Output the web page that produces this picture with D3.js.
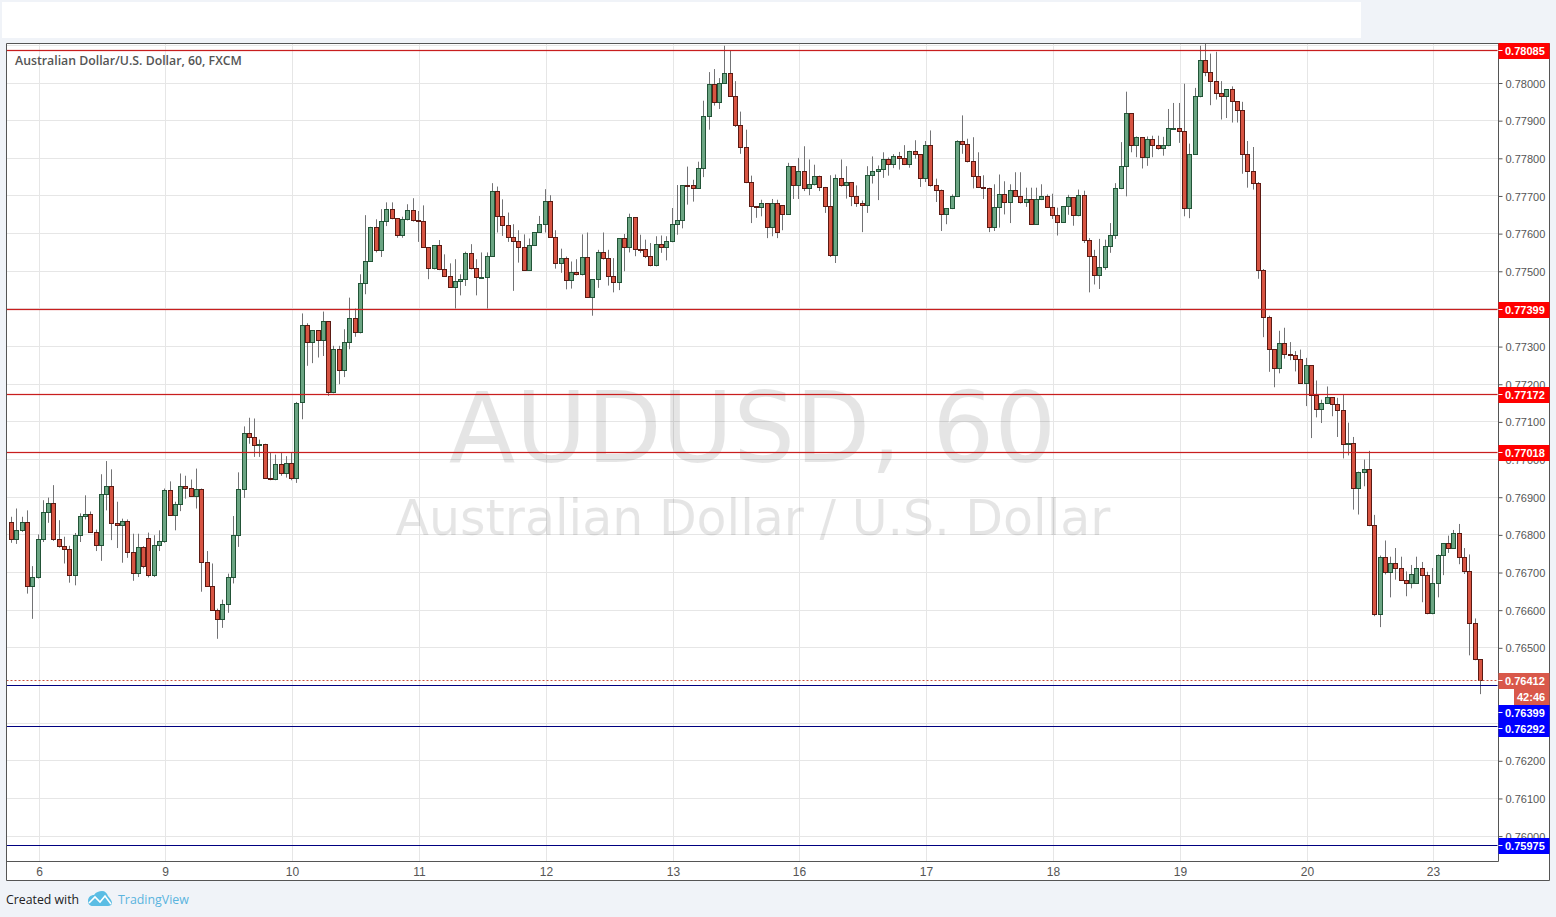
<!DOCTYPE html>
<html>
<head>
<meta charset="utf-8">
<script src="https://d3js.org/d3.v7.min.js"></script>
<style>
html,body{margin:0;padding:0;background:#f0f3f8;overflow:hidden}
svg{display:block}
text{font-family:"Liberation Sans",Arial,sans-serif}
</style>
</head>
<body>
<svg id="c" width="1556" height="917"></svg>
<script>
// Hourly bars, each row is [open, high, low, close] in 0.00001 price units.
const barsA=[[76833,76848,76779,76788],[76788,76870,76776,76811],[76811,76848,76808,76833],[76833,76865,76644,76663],[76663,76717,76577,76687],[76687,76801,76684,76788],[76788,76892,76781,76859],[76859,76899,76832,76883],[76883,76932,76784,76788],[76788,76839,76766,76768],[76768,76795,76724,76760],[76760,76771,76673,76692],[76692,76805,76666,76798],[76798,76857,76781,76849],[76849,76905,76841,76854],[76854,76862,76805,76806],[76806,76814,76757,76772],[76772,76961,76731,76907],[76907,76996,76865,76928],[76928,76974,76786,76830],[76830,76888,76765,76825],[76825,76843,76726,76835],[76835,76841,76739,76752],[76752,76803,76678,76697],[76697,76803,76688,76766],[76766,76770,76711,76716],[76790,76806,76687,76692],[76692,76799,76688,76772],[76772,76812,76757,76782],[76782,76923,76779,76918],[76918,76942,76851,76851],[76851,76888,76812,76880],[76880,76963,76863,76928],[76928,76957,76896,76923],[76923,76947,76901,76902],[76902,76976,76870,76920],[76920,76923,76649,76727],[76727,76757,76662,76663],[76663,76724,76598,76599],[76599,76604,76524,76575],[76575,76628,76553,76615],[76615,76697,76593,76687],[76687,76850,76671,76798],[76798,76966,76768,76920],[76920,77088,76898,77069],[77069,77111,77042,77058],[77058,77109,77007,77037],[77037,77053,77007,77040],[77040,77042,76949,76950],[76950,77018,76945,76947],[76947,77013,76945,76987],[76987,77020,76957,76963],[76963,77009,76952,76989],[76989,77018,76945,76950],[76950,77153,76938,77149]];
const barsB=[[77151,77388,77107,77356],[77356,77362,77249,77311],[77311,77342,77256,77342],[77342,77342,77271,77316],[77316,77393,77275,77366],[77366,77366,77169,77178],[77178,77302,77176,77292],[77292,77302,77200,77236],[77236,77346,77219,77311],[77311,77430,77293,77374],[77374,77401,77326,77337],[77337,77492,77335,77467],[77467,77649,77439,77526],[77526,77618,77525,77616],[77616,77638,77550,77555],[77555,77665,77538,77632],[77632,77683,77620,77664],[77664,77683,77638,77640],[77640,77640,77589,77595],[77595,77645,77589,77637],[77637,77678,77635,77661],[77661,77694,77632,77634],[77634,77660,77578,77633],[77633,77675,77562,77563],[77563,77563,77479,77507],[77507,77568,77505,77568],[77568,77583,77503,77504],[77504,77545,77485,77486],[77486,77521,77456,77457],[77457,77532,77401,77473],[77473,77492,77436,77478],[77478,77552,77461,77547],[77547,77572,77505,77507],[77507,77532,77436,77483],[77483,77550,77482,77484],[77484,77550,77401,77539],[77539,77734,77538,77712],[77712,77725,77603,77645],[77645,77691,77594,77621],[77621,77656,77578,77589],[77589,77625,77448,77579],[77579,77609,77523,77563],[77563,77598,77501,77502],[77502,77587,77501,77568],[77568,77603,77567,77603],[77603,77647,77602,77624],[77624,77718,77603,77685],[77685,77702,77589,77589],[77589,77609,77507,77520],[77520,77560,77496,77534],[77534,77539,77452,77475],[77475,77526,77454,77496],[77496,77532,77489,77491],[77491,77598,77489,77536],[77536,77603,77429,77430]];
const barsC=[[77430,77477,77382,77477],[77477,77557,77456,77549],[77549,77603,77531,77535],[77535,77557,77462,77485],[77485,77535,77444,77469],[77469,77588,77450,77586],[77586,77599,77500,77562],[77562,77653,77550,77642],[77642,77642,77540,77559],[77559,77597,77549,77558],[77558,77584,77535,77538],[77538,77575,77513,77516],[77516,77593,77513,77570],[77570,77595,77549,77562],[77562,77593,77529,77578],[77578,77668,77577,77623],[77623,77729,77597,77634],[77634,77729,77614,77729],[77729,77778,77677,77727],[77727,77743,77685,77721],[77721,77791,77720,77774],[77774,77953,77750,77912],[77912,78029,77876,77995],[77995,78037,77940,77947],[77947,78013,77931,78000],[78000,78099,77999,78024],[78024,78085,77964,77965],[77965,78005,77883,77888],[77888,77924,77812,77830],[77830,77876,77734,77737],[77737,77754,77628,77671],[77671,77672,77642,77670],[77670,77690,77646,77679],[77679,77679,77588,77615],[77615,77692,77593,77681],[77681,77690,77588,77602],[77676,77676,77609,77652],[77652,77788,77651,77777],[77777,77777,77692,77727],[77727,77801,77692,77764]];
const barsD=[[77764,77832,77713,77720],[77720,77797,77702,77730],[77730,77783,77728,77751],[77751,77754,77713,77722],[77722,77724,77655,77672],[77672,77755,77538,77542],[77542,77757,77522,77746],[77746,77797,77725,77727],[77727,77779,77693,77735],[77735,77735,77673,77698],[77698,77728,77671,77680],[77680,77688,77604,77674],[77674,77779,77655,77754],[77754,77805,77733,77765],[77765,77781,77689,77770],[77770,77816,77748,77797],[77797,77802,77754,77783],[77783,77811,77774,77804],[77804,77817,77770,77799],[77799,77835,77782,77783],[77783,77820,77775,77818],[77818,77848,77799,77810],[77810,77810,77724,77746],[77746,77846,77737,77834],[77834,77874,77725,77727],[77727,77746,77684,77714],[77714,77717,77607,77650],[77650,77666,77625,77666],[77666,77704,77665,77698],[77698,77848,77697,77844],[77844,77914,77812,77836],[77836,77852,77789,77791],[77791,77856,77720,77751],[77751,77816,77721,77722],[77722,77755,77692,77720],[77720,77722,77604,77616],[77616,77731,77607,77669],[77669,77757,77616,77704],[77704,77739,77651,77682],[77682,77731,77628,77714],[77714,77763,77697,77698],[77698,77763,77680,77682],[77682,77722,77671,77690],[77690,77722,77623,77624],[77624,77722,77623,77690],[77690,77731,77689,77698],[77698,77704,77668,77669],[77669,77706,77639,77648],[77648,77669,77595,77629]];
const barsE=[[77629,77671,77630,77671],[77671,77703,77650,77697],[77697,77697,77621,77647],[77647,77717,77646,77700],[77700,77714,77575,77583],[77583,77588,77444,77538],[77538,77557,77465,77488],[77488,77586,77453,77509],[77509,77584,77504,77567],[77567,77628,77549,77594],[77594,77734,77586,77721],[77721,77843,77718,77777],[77777,77977,77699,77918],[77918,77920,77816,77833],[77833,77858,77803,77854],[77854,77854,77773,77801],[77801,77858,77780,77851],[77851,77860,77803,77833],[77833,77860,77823,77825],[77825,77857,77807,77833],[77833,77931,77832,77878],[77878,77947,77877,77879],[77879,77947,77841,77870],[77870,77998,77646,77668],[77668,77839,77641,77811],[77811,77987,77810,77963],[77963,78099,77962,78061],[78061,78104,78018,78027],[78027,78078,77941,78005],[78005,78083,77956,77971],[77971,78005,77903,77963],[77963,77984,77907,77984],[77984,77991,77895,77950],[77950,77952,77895,77926],[77926,77950,77759,77809],[77809,77846,77722,77764],[77764,77830,77717,77732],[77732,77737,77480,77503]];
const barsF=[[77503,77506,77325,77376],[77376,77382,77233,77291],[77291,77291,77192,77243],[77243,77342,77229,77307],[77307,77350,77268,77280],[77280,77312,77264,77275],[77275,77288,77234,77267],[77267,77292,77202,77203],[77203,77270,77142,77251],[77251,77251,77057,77169],[77169,77210,77112,77132],[77132,77159,77097,77150],[77150,77194,77148,77166],[77166,77166,77115,77145],[77145,77164,77060,77129],[77129,77173,77003,77039],[77039,77098,77011,77042],[77042,77060,76867,76922],[76922,76968,76854,76965],[76965,77000,76929,76973],[76973,77023,76823,76824],[76824,76853,76584,76588],[76588,76745,76555,76739],[76739,76785,76695,76699],[76699,76742,76634,76723],[76723,76765,76681,76710],[76710,76742,76679,76680],[76680,76703,76637,76672],[76672,76720,76658,76696],[76672,76742,76671,76710],[76710,76728,76621,76691],[76691,76702,76589,76590],[76590,76712,76589,76670],[76670,76748,76634,76744],[76744,76777,76693,76776],[76776,76798,76752,76765],[76765,76813,76764,76803],[76803,76829,76722,76739],[76739,76765,76696,76704],[76704,76748,76480,76564],[76564,76578,76467,76468],[76468,76468,76377,76412]];

const dayLabels=["6","9","10","11","12","13","16","17","18","19","20","23"];
const dayBars=[5,29,53,77,101,125,149,173,197,221,245,269];
const priceTicks=[76000,76100,76200,76300,76400,76500,76600,76700,76800,76900,77000,77100,77200,77300,77400,77500,77600,77700,77800,77900,78000,78100];
const coveredTickLabels=[76300,76400,78100];
const resistanceLevels=[78085,77399,77172,77018];
const supportLevels=[76399,76292,75975];
const lastPrice=76412;
const countdown="42:46";

const bars=[...barsA,...barsB,...barsC,...barsD,...barsE,...barsF];
const fmt=v=>(v/1e5).toFixed(5);
const L=6.5,R=1498.5,T=43.5,B=861.5,AR=1549.5,TB=880.5;

const x=d3.scaleLinear().domain([0,bars.length-1]).range([11.6,1480.4]);
const y=d3.scaleLinear().domain([78000,76000]).range([83,836.1]);
const sy=v=>Math.floor(y(v))+.5;
const sx=i=>Math.floor(x(i))+.5;
const DAYSHIFT=1;

const svg=d3.select("#c");
svg.append("rect").attr("x",2).attr("y",2).attr("width",1359).attr("height",36).attr("fill","#fff");
svg.append("rect").attr("x",L).attr("y",T).attr("width",AR-L).attr("height",TB-T).attr("fill","#fff");
svg.append("defs").append("clipPath").attr("id","plot").append("rect").attr("x",L).attr("y",T).attr("width",R-L).attr("height",B-T);
const plot=svg.append("g").attr("clip-path","url(#plot)");

// grid
plot.append("g").selectAll("line").data(priceTicks).join("line")
 .attr("x1",L).attr("x2",R).attr("y1",sy).attr("y2",sy).attr("stroke","#e6e6e6");
plot.append("g").selectAll("line").data(dayBars).join("line")
 .attr("x1",i=>sx(i)+DAYSHIFT).attr("x2",i=>sx(i)+DAYSHIFT).attr("y1",T).attr("y2",B).attr("stroke","#e6e6e6");

// watermark
plot.append("text").attr("x",752.5).attr("y",462).attr("text-anchor","middle").attr("font-size",97.5)
 .attr("fill","#000").attr("fill-opacity",.1).style("font-family","'DejaVu Sans',sans-serif").text("AUDUSD, 60");
plot.append("text").attr("x",753).attr("y",535).attr("text-anchor","middle").attr("font-size",49)
 .attr("fill","#000").attr("fill-opacity",.1).style("font-family","'DejaVu Sans',sans-serif").text("Australian Dollar / U.S. Dollar");

// candles
const cg=plot.append("g");
const candle=cg.selectAll("g").data(bars).join("g");
candle.append("line").attr("x1",(d,i)=>sx(i)).attr("x2",(d,i)=>sx(i))
 .attr("y1",d=>y(d[1])).attr("y2",d=>y(d[2])).attr("stroke","#737375");
candle.append("rect").attr("x",(d,i)=>sx(i)-2).attr("width",4)
 .attr("y",d=>sy(Math.max(d[0],d[3])))
 .attr("height",d=>Math.max(1,sy(Math.min(d[0],d[3]))-sy(Math.max(d[0],d[3]))))
 .attr("fill",d=>d[3]>=d[0]?"#6ba583":"#d75442")
 .attr("stroke",d=>d[3]>=d[0]?"#225437":"#5b1a13");

// levels
const levelG=plot.append("g");
levelG.selectAll("line.halo").data(resistanceLevels).join("line").attr("class","halo")
 .attr("x1",L).attr("x2",R-1).attr("y1",sy).attr("y2",sy).attr("stroke","#d01c1c").attr("stroke-width",3).attr("stroke-opacity",.12);
levelG.selectAll("line.res").data(resistanceLevels).join("line").attr("class","res")
 .attr("x1",L).attr("x2",R-1).attr("y1",sy).attr("y2",sy).attr("stroke","#c81e1e");
levelG.selectAll("line.sup").data(supportLevels).join("line").attr("class","sup")
 .attr("x1",L).attr("x2",R-1).attr("y1",sy).attr("y2",sy).attr("stroke","#000080");
levelG.append("line").attr("x1",L).attr("x2",R-1).attr("y1",sy(lastPrice)).attr("y2",sy(lastPrice))
 .attr("stroke","#c8503f").attr("stroke-dasharray","2 2");

// frame
svg.append("path").attr("fill","none").attr("stroke","#555")
 .attr("d",`M${L} ${T}H${AR}V${TB}H${L}Z M${R} ${T}V${B} M${L} ${B}H${R}`);

// axes
const yAxis=d3.axisRight(y).tickValues(priceTicks.filter(v=>!coveredTickLabels.includes(v))).tickFormat(fmt).tickSize(4).tickPadding(3);
const ya=svg.append("g").attr("transform",`translate(${R},0)`).call(yAxis);
ya.select(".domain").remove();
ya.selectAll("text").attr("font-size",11).attr("fill","#555").attr("dy",".37em").style("font-family","'Liberation Sans',Arial,sans-serif");
ya.selectAll("line").attr("stroke","#555");
const dayX=d3.scaleOrdinal().domain(dayBars).range(dayBars.map(i=>sx(i)+DAYSHIFT));
const xAxis=d3.axisBottom(dayX).tickValues(dayBars).tickFormat((d,i)=>dayLabels[i]).tickSize(0).tickPadding(6);
const xa=svg.append("g").attr("transform",`translate(0,${B})`).call(xAxis);
xa.select(".domain").remove();
xa.selectAll("text").attr("font-size",12).attr("fill","#555").attr("x",-.5).style("font-family","'Liberation Sans',Arial,sans-serif");

// price tags: stacked downwards so that they never overlap
const H=16;
const tags=[...resistanceLevels.map(v=>({v,c:"#ff0000"})),{v:lastPrice,c:"#d9584a",extra:countdown},...supportLevels.map(v=>({v,c:"#0000ff"}))]
 .sort((a,b)=>b.v-a.v);
let next=0;
const tagG=svg.append("g");
tags.forEach(t=>{
  const top=Math.max(next,Math.floor(y(t.v))-7);
  tagG.append("rect").attr("x",R).attr("y",top).attr("width",AR-R).attr("height",H).attr("fill",t.c);
  tagG.append("line").attr("x1",R).attr("x2",R+4).attr("y1",top+7.5).attr("y2",top+7.5).attr("stroke","#fff");
  tagG.append("text").attr("x",R+6.5).attr("y",top+12).attr("font-size",11).attr("font-weight","bold").attr("fill","#fff").text(fmt(t.v));
  next=top+H;
  if(t.extra){
    tagG.append("rect").attr("x",1514).attr("y",next).attr("width",AR-1514).attr("height",H).attr("fill",t.c);
    tagG.append("text").attr("x",1517).attr("y",next+12).attr("font-size",11).attr("font-weight","bold").attr("fill","#fff").text(t.extra);
    next+=H;
  }
});

// title and footer
svg.append("text").attr("x",15).attr("y",65).attr("font-size",12.3).attr("font-weight",600).attr("fill","#555")
 .style("font-family","'Open Sans',sans-serif").text("Australian Dollar/U.S. Dollar, 60, FXCM");
svg.append("text").attr("x",6).attr("y",904).attr("font-size",12.3).attr("fill","#222")
 .style("font-family","'Open Sans',sans-serif").text("Created with");
svg.append("text").attr("x",118).attr("y",904).attr("font-size",12.4).attr("fill","#5ab4de")
 .style("font-family","'Open Sans',sans-serif").text("TradingView");
const logo=svg.append("g");
logo.append("path").attr("fill","#5bbde4")
 .attr("d","M88 901 C88 897 91 895 94 895 C96 892 99 891 102 891 C105 891 107 893 108 896 C110 898 112 901 112 903 C112 905 110 906 108 906 L93 906 C90 906 88 904 88 901Z");
logo.append("path").attr("fill","none").attr("stroke","#fff").attr("stroke-width",1.6)
 .attr("d","M89 903 L95 897 L100 902 L105 896 L111 904");
</script>
</body>
</html>
